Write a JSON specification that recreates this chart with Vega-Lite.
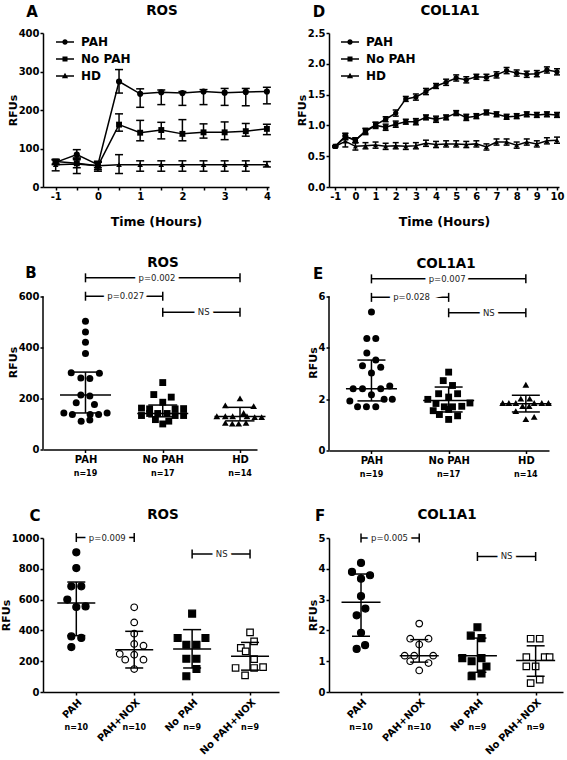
{
"$schema": "https://vega.github.io/schema/vega-lite/v6.json",
"background": "white",
"padding": {"left": 0, "top": 3, "right": 2, "bottom": 0},
"config": {
 "font": "DejaVu Sans",
 "view": {"stroke": null},
 "axis": {"grid": false, "domainColor": "black", "domainWidth": 1.5, "tickColor": "black", "tickWidth": 1.5, "tickSize": 3, "labelColor": "black", "labelFont": "DejaVu Sans", "labelFontSize": 10, "labelFontWeight": "bold", "labelPadding": 1, "titleColor": "black", "titleFont": "DejaVu Sans", "titleFontWeight": "bold", "titleFontSize": 11, "titlePadding": 0},
 "axisX": {"titleFontSize": 12.5, "titlePadding": 14},
 "title": {"font": "DejaVu Sans", "fontSize": 13.5, "fontWeight": "bold", "color": "black", "anchor": "middle", "frame": "group"},
 "text": {"font": "DejaVu Sans"}
},
"datasets": {
 "ser": [{"s": "PAH"}, {"s": "No PAH"}, {"s": "HD"}],
 "tsA": [
  {"t":-1,"s":"PAH","y":64,"lo":58,"hi":70},{"t":-0.5,"s":"PAH","y":84,"lo":71,"hi":97},{"t":0,"s":"PAH","y":58,"lo":50,"hi":64},{"t":0.5,"s":"PAH","y":274,"lo":244,"hi":305},{"t":1,"s":"PAH","y":242,"lo":207,"hi":255},{"t":1.5,"s":"PAH","y":246,"lo":214,"hi":252},{"t":2,"s":"PAH","y":244,"lo":212,"hi":248},{"t":2.5,"s":"PAH","y":248,"lo":214,"hi":253},{"t":3,"s":"PAH","y":245,"lo":212,"hi":256},{"t":3.5,"s":"PAH","y":247,"lo":211,"hi":256},{"t":4,"s":"PAH","y":248,"lo":216,"hi":259},
  {"t":-1,"s":"No PAH","y":66,"lo":60,"hi":72},{"t":-0.5,"s":"No PAH","y":62,"lo":50,"hi":75},{"t":0,"s":"No PAH","y":55,"lo":45,"hi":65},{"t":0.5,"s":"No PAH","y":162,"lo":145,"hi":190},{"t":1,"s":"No PAH","y":141,"lo":120,"hi":173},{"t":1.5,"s":"No PAH","y":148,"lo":125,"hi":168},{"t":2,"s":"No PAH","y":138,"lo":120,"hi":175},{"t":2.5,"s":"No PAH","y":142,"lo":127,"hi":164},{"t":3,"s":"No PAH","y":142,"lo":123,"hi":169},{"t":3.5,"s":"No PAH","y":145,"lo":132,"hi":165},{"t":4,"s":"No PAH","y":151,"lo":136,"hi":163},
  {"t":-1,"s":"HD","y":58,"lo":42,"hi":71},{"t":-0.5,"s":"HD","y":60,"lo":35,"hi":75},{"t":0,"s":"HD","y":55,"lo":41,"hi":67},{"t":0.5,"s":"HD","y":58,"lo":35,"hi":84},{"t":1,"s":"HD","y":58,"lo":41,"hi":68},{"t":1.5,"s":"HD","y":58,"lo":41,"hi":68},{"t":2,"s":"HD","y":58,"lo":41,"hi":68},{"t":2.5,"s":"HD","y":58,"lo":41,"hi":68},{"t":3,"s":"HD","y":58,"lo":41,"hi":68},{"t":3.5,"s":"HD","y":58,"lo":41,"hi":68},{"t":4,"s":"HD","y":58,"lo":52,"hi":66}
 ],
 "tsD": [
  {"t":-1,"s":"PAH","y":0.66,"lo":0.65,"hi":0.67},{"t":-0.5,"s":"PAH","y":0.82,"lo":0.77,"hi":0.87},{"t":0,"s":"PAH","y":0.76,"lo":0.72,"hi":0.80},{"t":0.5,"s":"PAH","y":0.91,"lo":0.87,"hi":0.95},{"t":1,"s":"PAH","y":1.01,"lo":0.97,"hi":1.05},{"t":1.5,"s":"PAH","y":1.10,"lo":1.06,"hi":1.14},{"t":2,"s":"PAH","y":1.20,"lo":1.15,"hi":1.25},{"t":2.5,"s":"PAH","y":1.43,"lo":1.39,"hi":1.47},{"t":3,"s":"PAH","y":1.46,"lo":1.41,"hi":1.51},{"t":3.5,"s":"PAH","y":1.55,"lo":1.50,"hi":1.60},{"t":4,"s":"PAH","y":1.64,"lo":1.60,"hi":1.68},{"t":4.5,"s":"PAH","y":1.70,"lo":1.65,"hi":1.75},{"t":5,"s":"PAH","y":1.77,"lo":1.72,"hi":1.82},{"t":5.5,"s":"PAH","y":1.74,"lo":1.69,"hi":1.79},{"t":6,"s":"PAH","y":1.79,"lo":1.75,"hi":1.83},{"t":6.5,"s":"PAH","y":1.78,"lo":1.73,"hi":1.83},{"t":7,"s":"PAH","y":1.82,"lo":1.77,"hi":1.87},{"t":7.5,"s":"PAH","y":1.89,"lo":1.84,"hi":1.94},{"t":8,"s":"PAH","y":1.85,"lo":1.80,"hi":1.90},{"t":8.5,"s":"PAH","y":1.83,"lo":1.78,"hi":1.88},{"t":9,"s":"PAH","y":1.84,"lo":1.79,"hi":1.89},{"t":9.5,"s":"PAH","y":1.90,"lo":1.85,"hi":1.95},{"t":10,"s":"PAH","y":1.87,"lo":1.82,"hi":1.92},
  {"t":-1,"s":"No PAH","y":0.66,"lo":0.65,"hi":0.67},{"t":-0.5,"s":"No PAH","y":0.82,"lo":0.77,"hi":0.87},{"t":0,"s":"No PAH","y":0.76,"lo":0.72,"hi":0.80},{"t":0.5,"s":"No PAH","y":0.90,"lo":0.85,"hi":0.95},{"t":1,"s":"No PAH","y":1.00,"lo":0.95,"hi":1.05},{"t":1.5,"s":"No PAH","y":0.97,"lo":0.92,"hi":1.02},{"t":2,"s":"No PAH","y":1.02,"lo":0.97,"hi":1.07},{"t":2.5,"s":"No PAH","y":1.06,"lo":1.02,"hi":1.10},{"t":3,"s":"No PAH","y":1.06,"lo":1.01,"hi":1.11},{"t":3.5,"s":"No PAH","y":1.13,"lo":1.09,"hi":1.17},{"t":4,"s":"No PAH","y":1.10,"lo":1.05,"hi":1.15},{"t":4.5,"s":"No PAH","y":1.13,"lo":1.09,"hi":1.17},{"t":5,"s":"No PAH","y":1.20,"lo":1.16,"hi":1.24},{"t":5.5,"s":"No PAH","y":1.13,"lo":1.08,"hi":1.18},{"t":6,"s":"No PAH","y":1.15,"lo":1.11,"hi":1.19},{"t":6.5,"s":"No PAH","y":1.21,"lo":1.17,"hi":1.25},{"t":7,"s":"No PAH","y":1.18,"lo":1.14,"hi":1.22},{"t":7.5,"s":"No PAH","y":1.14,"lo":1.10,"hi":1.18},{"t":8,"s":"No PAH","y":1.15,"lo":1.11,"hi":1.19},{"t":8.5,"s":"No PAH","y":1.18,"lo":1.14,"hi":1.22},{"t":9,"s":"No PAH","y":1.17,"lo":1.13,"hi":1.21},{"t":9.5,"s":"No PAH","y":1.18,"lo":1.14,"hi":1.22},{"t":10,"s":"No PAH","y":1.17,"lo":1.13,"hi":1.21},
  {"t":-1,"s":"HD","y":0.66,"lo":0.65,"hi":0.67},{"t":-0.5,"s":"HD","y":0.74,"lo":0.65,"hi":0.83},{"t":0,"s":"HD","y":0.66,"lo":0.60,"hi":0.72},{"t":0.5,"s":"HD","y":0.67,"lo":0.62,"hi":0.72},{"t":1,"s":"HD","y":0.68,"lo":0.63,"hi":0.73},{"t":1.5,"s":"HD","y":0.66,"lo":0.61,"hi":0.71},{"t":2,"s":"HD","y":0.67,"lo":0.62,"hi":0.72},{"t":2.5,"s":"HD","y":0.66,"lo":0.61,"hi":0.71},{"t":3,"s":"HD","y":0.67,"lo":0.62,"hi":0.72},{"t":3.5,"s":"HD","y":0.71,"lo":0.66,"hi":0.76},{"t":4,"s":"HD","y":0.69,"lo":0.64,"hi":0.74},{"t":4.5,"s":"HD","y":0.70,"lo":0.65,"hi":0.75},{"t":5,"s":"HD","y":0.70,"lo":0.65,"hi":0.75},{"t":5.5,"s":"HD","y":0.69,"lo":0.64,"hi":0.74},{"t":6,"s":"HD","y":0.70,"lo":0.65,"hi":0.75},{"t":6.5,"s":"HD","y":0.65,"lo":0.60,"hi":0.70},{"t":7,"s":"HD","y":0.73,"lo":0.68,"hi":0.78},{"t":7.5,"s":"HD","y":0.73,"lo":0.68,"hi":0.78},{"t":8,"s":"HD","y":0.68,"lo":0.63,"hi":0.73},{"t":8.5,"s":"HD","y":0.73,"lo":0.68,"hi":0.78},{"t":9,"s":"HD","y":0.70,"lo":0.65,"hi":0.75},{"t":9.5,"s":"HD","y":0.75,"lo":0.70,"hi":0.80},{"t":10,"s":"HD","y":0.76,"lo":0.71,"hi":0.81}
 ],
 "ptB": [
  {"g":"PAH","x":0,"v":502},{"g":"PAH","x":0,"v":460},{"g":"PAH","x":0,"v":420},{"g":"PAH","x":0,"v":376},{"g":"PAH","x":-0.185,"v":300},{"g":"PAH","x":0.18,"v":298},{"g":"PAH","x":-0.06,"v":280},{"g":"PAH","x":0.056,"v":278},{"g":"PAH","x":-0.06,"v":213},{"g":"PAH","x":0.056,"v":209},{"g":"PAH","x":-0.12,"v":183},{"g":"PAH","x":0.116,"v":176},{"g":"PAH","x":-0.28,"v":143},{"g":"PAH","x":-0.17,"v":137},{"g":"PAH","x":0.06,"v":137},{"g":"PAH","x":0.17,"v":137},{"g":"PAH","x":0.28,"v":143},{"g":"PAH","x":-0.056,"v":111},{"g":"PAH","x":0.056,"v":115},
  {"g":"No PAH","x":1,"v":262},{"g":"No PAH","x":0.884,"v":215},{"g":"No PAH","x":1.11,"v":205},{"g":"No PAH","x":1,"v":185},{"g":"No PAH","x":0.725,"v":162},{"g":"No PAH","x":0.83,"v":159},{"g":"No PAH","x":1.27,"v":160},{"g":"No PAH","x":1.16,"v":159},{"g":"No PAH","x":0.725,"v":133},{"g":"No PAH","x":0.83,"v":141},{"g":"No PAH","x":0.935,"v":141},{"g":"No PAH","x":1.056,"v":141},{"g":"No PAH","x":1.16,"v":133},{"g":"No PAH","x":1.27,"v":133},{"g":"No PAH","x":0.905,"v":117},{"g":"No PAH","x":1.078,"v":111},{"g":"No PAH","x":1,"v":100},
  {"g":"HD","x":2,"v":200},{"g":"HD","x":1.81,"v":173},{"g":"HD","x":2.177,"v":170},{"g":"HD","x":2.047,"v":143},{"g":"HD","x":1.7,"v":130},{"g":"HD","x":1.81,"v":130},{"g":"HD","x":1.905,"v":130},{"g":"HD","x":2.09,"v":130},{"g":"HD","x":2.19,"v":127},{"g":"HD","x":2.28,"v":127},{"g":"HD","x":1.81,"v":104},{"g":"HD","x":1.9,"v":101},{"g":"HD","x":1.983,"v":101},{"g":"HD","x":2.078,"v":104}
 ],
 "smB": [{"gi":0,"mean":213,"lo":143,"hi":303,"n":"n=19"},{"gi":1,"mean":141,"lo":128,"hi":174,"n":"n=17"},{"gi":2,"mean":129,"lo":112,"hi":165,"n":"n=14"}],
 "brB": [{"a":0,"b":2,"y":672,"tx":0.925,"label":"p=0.002"},{"a":0,"b":1,"y":600,"tx":0.52,"label":"p=0.027"},{"a":1,"b":2,"y":537,"tx":1.53,"label":"NS"}],
 "ptE": [
  {"g":"PAH","x":0,"v":5.39},{"g":"PAH","x":-0.06,"v":4.36},{"g":"PAH","x":0.056,"v":4.36},{"g":"PAH","x":-0.06,"v":3.79},{"g":"PAH","x":0.056,"v":3.52},{"g":"PAH","x":-0.116,"v":3.30},{"g":"PAH","x":0.12,"v":3.24},{"g":"PAH","x":0,"v":3.02},{"g":"PAH","x":-0.237,"v":2.40},{"g":"PAH","x":-0.116,"v":2.40},{"g":"PAH","x":0.12,"v":2.40},{"g":"PAH","x":0.237,"v":2.51},{"g":"PAH","x":0,"v":2.17},{"g":"PAH","x":-0.28,"v":1.93},{"g":"PAH","x":0.164,"v":1.99},{"g":"PAH","x":0.27,"v":1.99},{"g":"PAH","x":-0.18,"v":1.70},{"g":"PAH","x":-0.065,"v":1.70},{"g":"PAH","x":0.056,"v":1.70},
  {"g":"No PAH","x":1,"v":3.05},{"g":"No PAH","x":0.93,"v":2.72},{"g":"No PAH","x":1.05,"v":2.53},{"g":"No PAH","x":0.87,"v":2.21},{"g":"No PAH","x":1.116,"v":2.21},{"g":"No PAH","x":0.73,"v":1.99},{"g":"No PAH","x":1,"v":2.08},{"g":"No PAH","x":1.276,"v":1.85},{"g":"No PAH","x":0.836,"v":1.83},{"g":"No PAH","x":0.944,"v":1.70},{"g":"No PAH","x":1.05,"v":1.70},{"g":"No PAH","x":1.17,"v":1.72},{"g":"No PAH","x":0.88,"v":1.40},{"g":"No PAH","x":1.116,"v":1.35},{"g":"No PAH","x":1,"v":1.21},{"g":"No PAH","x":0.8,"v":1.55},{"g":"No PAH","x":1.0,"v":1.60},
  {"g":"HD","x":2,"v":2.56},{"g":"HD","x":1.935,"v":2.02},{"g":"HD","x":2.05,"v":2.02},{"g":"HD","x":1.7,"v":1.85},{"g":"HD","x":1.78,"v":1.85},{"g":"HD","x":1.87,"v":1.85},{"g":"HD","x":2.108,"v":1.85},{"g":"HD","x":2.207,"v":1.85},{"g":"HD","x":2.293,"v":1.85},{"g":"HD","x":1.957,"v":1.73},{"g":"HD","x":2.043,"v":1.73},{"g":"HD","x":1.87,"v":1.53},{"g":"HD","x":2.108,"v":1.31},{"g":"HD","x":2,"v":1.22}
 ],
 "smE": [{"gi":0,"mean":2.40,"lo":1.93,"hi":3.52,"n":"n=19"},{"gi":1,"mean":1.95,"lo":1.50,"hi":2.47,"n":"n=17"},{"gi":2,"mean":1.82,"lo":1.50,"hi":2.15,"n":"n=14"}],
 "brE": [{"a":0,"b":2,"y":6.68,"tx":0.98,"label":"p=0.007"},{"a":0,"b":1,"y":5.96,"tx":0.52,"label":"p=0.028"},{"a":1,"b":2,"y":5.36,"tx":1.52,"label":"NS"}],
 "ptC": [
  {"g":"PAH","x":0,"v":907},{"g":"PAH","x":0,"v":805},{"g":"PAH","x":-0.086,"v":686},{"g":"PAH","x":0.086,"v":686},{"g":"PAH","x":-0.155,"v":600},{"g":"PAH","x":0,"v":552},{"g":"PAH","x":0.16,"v":556},{"g":"PAH","x":-0.086,"v":361},{"g":"PAH","x":0.086,"v":351},{"g":"PAH","x":-0.086,"v":292},
  {"g":"PAH+NOX","x":1,"v":550},{"g":"PAH+NOX","x":1,"v":452},{"g":"PAH+NOX","x":1,"v":379},{"g":"PAH+NOX","x":1,"v":312},{"g":"PAH+NOX","x":1.16,"v":301},{"g":"PAH+NOX","x":0.75,"v":247},{"g":"PAH+NOX","x":1,"v":242},{"g":"PAH+NOX","x":0.845,"v":210},{"g":"PAH+NOX","x":1.16,"v":210},{"g":"PAH+NOX","x":1,"v":149},
  {"g":"No PAH","x":2,"v":509},{"g":"No PAH","x":1.75,"v":351},{"g":"No PAH","x":2.23,"v":351},{"g":"No PAH","x":1.9,"v":307},{"g":"No PAH","x":2.075,"v":307},{"g":"No PAH","x":1.9,"v":216},{"g":"No PAH","x":2.075,"v":216},{"g":"No PAH","x":2.075,"v":149},{"g":"No PAH","x":1.9,"v":102},
  {"g":"No PAH+NOX","x":3,"v":387},{"g":"No PAH+NOX","x":3.07,"v":329},{"g":"No PAH+NOX","x":2.84,"v":286},{"g":"No PAH+NOX","x":2.925,"v":264},{"g":"No PAH+NOX","x":3.07,"v":214},{"g":"No PAH+NOX","x":2.75,"v":156},{"g":"No PAH+NOX","x":3.07,"v":156},{"g":"No PAH+NOX","x":3.225,"v":162},{"g":"No PAH+NOX","x":2.914,"v":108}
 ],
 "smC": [{"gi":0,"mean":578,"lo":366,"hi":714,"n":"n=10"},{"gi":1,"mean":275,"lo":156,"hi":394,"n":"n=10"},{"gi":2,"mean":279,"lo":156,"hi":405,"n":"n=9"},{"gi":3,"mean":232,"lo":142,"hi":322,"n":"n=9"}],
 "brC": [{"a":0,"b":1,"y":1003,"tx":0.535,"label":"p=0.009"},{"a":2,"b":3,"y":896,"tx":2.51,"label":"NS"}],
 "ptF": [
  {"g":"PAH","x":0,"v":4.19},{"g":"PAH","x":-0.155,"v":3.90},{"g":"PAH","x":0.155,"v":3.79},{"g":"PAH","x":0,"v":3.68},{"g":"PAH","x":0,"v":3.11},{"g":"PAH","x":0.075,"v":2.71},{"g":"PAH","x":-0.075,"v":2.49},{"g":"PAH","x":0,"v":1.92},{"g":"PAH","x":0.07,"v":1.52},{"g":"PAH","x":-0.075,"v":1.40},
  {"g":"PAH+NOX","x":1,"v":2.22},{"g":"PAH+NOX","x":0.845,"v":1.73},{"g":"PAH+NOX","x":1.16,"v":1.73},{"g":"PAH+NOX","x":1,"v":1.54},{"g":"PAH+NOX","x":0.75,"v":1.18},{"g":"PAH+NOX","x":0.914,"v":1.18},{"g":"PAH+NOX","x":1.24,"v":1.18},{"g":"PAH+NOX","x":0.845,"v":1.00},{"g":"PAH+NOX","x":1.16,"v":0.94},{"g":"PAH+NOX","x":1,"v":0.70},
  {"g":"No PAH","x":2,"v":2.10},{"g":"No PAH","x":1.885,"v":1.83},{"g":"No PAH","x":2.07,"v":1.75},{"g":"No PAH","x":1.74,"v":1.10},{"g":"No PAH","x":1.9,"v":1.00},{"g":"No PAH","x":2.07,"v":1.10},{"g":"No PAH","x":2.155,"v":0.83},{"g":"No PAH","x":2.07,"v":0.60},{"g":"No PAH","x":1.9,"v":0.51},
  {"g":"No PAH+NOX","x":2.914,"v":1.73},{"g":"No PAH+NOX","x":3.07,"v":1.73},{"g":"No PAH+NOX","x":2.84,"v":1.13},{"g":"No PAH+NOX","x":3.155,"v":1.13},{"g":"No PAH+NOX","x":3.24,"v":1.13},{"g":"No PAH+NOX","x":2.84,"v":0.83},{"g":"No PAH+NOX","x":3,"v":0.83},{"g":"No PAH+NOX","x":3.07,"v":0.40},{"g":"No PAH+NOX","x":2.914,"v":0.29}
 ],
 "smF": [{"gi":0,"mean":2.91,"lo":1.81,"hi":3.83,"n":"n=10"},{"gi":1,"mean":1.18,"lo":0.97,"hi":1.70,"n":"n=10"},{"gi":2,"mean":1.18,"lo":0.64,"hi":1.75,"n":"n=9"},{"gi":3,"mean":1.02,"lo":0.51,"hi":1.50,"n":"n=9"}],
 "brF": [{"a":0,"b":1,"y":5.0,"tx":0.49,"label":"p=0.005"},{"a":2,"b":3,"y":4.40,"tx":2.50,"label":"NS"}]
},
"columns": 2,
"bounds": "flush",
"spacing": {"row": 87.5, "column": 50},
"concat": [
 {
  "width": 226, "height": 154,
  "title": {"text": "ROS", "offset": -12, "dx": 6},
  "resolve": {"scale": {"shape": "independent", "size": "independent"}},
  "layer": [
   {"data": {"name": "tsA"}, "mark": {"type": "line", "color": "black", "strokeWidth": 1.5},
    "encoding": {
     "x": {"field": "t", "type": "quantitative", "title": "Time (Hours)", "scale": {"domain": [-1.3, 4.05], "nice": false, "zero": false}, "axis": {"values": [-1,-0.5,0,0.5,1,1.5,2,2.5,3,3.5,4], "tickCount": 100, "labelExpr": "datum.value % 1 === 0 ? toString(datum.value) : ''", "labelFlush": false, "labelOverlap": false, "titleColor": "black"}},
     "y": {"field": "y", "type": "quantitative", "title": "RFUs", "scale": {"domain": [0, 400], "nice": false}, "axis": {"values": [0,100,200,300,400], "tickCount": 100, "format": "d", "labelOverlap": false, "titleColor": "black"}},
     "detail": {"field": "s"}}},
   {"data": {"name": "tsA"}, "mark": {"type": "rule", "color": "black", "strokeWidth": 1.5},
    "encoding": {"x": {"field": "t", "type": "quantitative", "title": "Time (Hours)"}, "y": {"field": "lo", "type": "quantitative", "title": "RFUs"}, "y2": {"field": "hi"}}},
   {"data": {"name": "tsA"}, "mark": {"type": "tick", "orient": "horizontal", "size": 8, "thickness": 1.5, "color": "black", "opacity": 1},
    "encoding": {"x": {"field": "t", "type": "quantitative", "title": "Time (Hours)"}, "y": {"field": "lo", "type": "quantitative", "title": "RFUs"}}},
   {"data": {"name": "tsA"}, "mark": {"type": "tick", "orient": "horizontal", "size": 8, "thickness": 1.5, "color": "black", "opacity": 1},
    "encoding": {"x": {"field": "t", "type": "quantitative", "title": "Time (Hours)"}, "y": {"field": "hi", "type": "quantitative", "title": "RFUs"}}},
   {"data": {"name": "tsA"}, "mark": {"type": "point", "filled": true, "color": "black", "opacity": 1},
    "encoding": {"x": {"field": "t", "type": "quantitative", "title": "Time (Hours)"}, "y": {"field": "y", "type": "quantitative", "title": "RFUs"},
     "shape": {"field": "s", "type": "nominal", "scale": {"domain": ["PAH","No PAH","HD"], "range": ["circle","square","triangle-up"]}, "legend": null},
     "size": {"field": "s", "type": "nominal", "scale": {"domain": ["PAH","No PAH","HD"], "range": [38,32,48]}, "legend": null}}},
   {"data": {"name": "ser"}, "transform": [{"filter": "false"}], "mark": {"type": "point", "filled": true, "color": "black", "opacity": 1, "size": 144},
    "encoding": {"shape": {"field": "s", "type": "nominal", "scale": {"domain": ["PAH","No PAH","HD"], "range": ["M-1.5,-0.13H1.5V0.13H-1.5ZM0.45,0A0.45,0.45,0,1,1,-0.45,0A0.45,0.45,0,1,1,0.45,0Z","M-1.5,-0.13H1.5V0.13H-1.5ZM-0.42,-0.42H0.42V0.42H-0.42Z","M-1.5,-0.13H1.5V0.13H-1.5ZM0,-0.55L0.52,0.38H-0.52Z"]},
     "legend": {"title": null, "orient": "none", "legendX": 16, "legendY": 3, "symbolSize": 144, "labelFont": "DejaVu Sans", "labelFontSize": 12, "labelFontWeight": "bold", "labelColor": "black", "labelOffset": 10, "rowPadding": 5, "padding": 0, "symbolFillColor": "black", "symbolStrokeWidth": 0, "symbolOpacity": 1,
      "encode": {"symbols": {"update": {"fill": {"value": "black"}, "opacity": {"value": 1}}}}}}}},
   {"data": {"values": [{"label": "A"}]}, "mark": {"type": "text", "fontSize": 15, "fontWeight": "bold", "color": "black", "baseline": "middle", "dx": -11, "dy": -21},
    "encoding": {"x": {"datum": -1.3, "type": "quantitative"}, "y": {"datum": 400, "type": "quantitative"}, "text": {"field": "label"}}}
  ]
 },
 {
  "width": 230, "height": 154,
  "title": {"text": "COL1A1", "offset": -12, "dx": 6},
  "resolve": {"scale": {"shape": "independent", "size": "independent"}},
  "layer": [
   {"data": {"name": "tsD"}, "mark": {"type": "line", "color": "black", "strokeWidth": 1.5},
    "encoding": {
     "x": {"field": "t", "type": "quantitative", "title": "Time (Hours)", "scale": {"domain": [-1.31, 10.1], "nice": false, "zero": false}, "axis": {"values": [-1,-0.5,0,0.5,1,1.5,2,2.5,3,3.5,4,4.5,5,5.5,6,6.5,7,7.5,8,8.5,9,9.5,10], "tickCount": 100, "labelExpr": "datum.value % 1 === 0 ? toString(datum.value) : ''", "labelFlush": false, "labelOverlap": false, "titleColor": "black"}},
     "y": {"field": "y", "type": "quantitative", "title": "RFUs", "scale": {"domain": [0, 2.5], "nice": false}, "axis": {"values": [0,0.5,1,1.5,2,2.5], "tickCount": 100, "labelOverlap": false, "format": ".1f", "titleColor": "black"}},
     "detail": {"field": "s"}}},
   {"data": {"name": "tsD"}, "mark": {"type": "rule", "color": "black", "strokeWidth": 1.5},
    "encoding": {"x": {"field": "t", "type": "quantitative", "title": "Time (Hours)"}, "y": {"field": "lo", "type": "quantitative", "title": "RFUs"}, "y2": {"field": "hi"}}},
   {"data": {"name": "tsD"}, "mark": {"type": "tick", "orient": "horizontal", "size": 6, "thickness": 1.5, "color": "black", "opacity": 1},
    "encoding": {"x": {"field": "t", "type": "quantitative", "title": "Time (Hours)"}, "y": {"field": "lo", "type": "quantitative", "title": "RFUs"}}},
   {"data": {"name": "tsD"}, "mark": {"type": "tick", "orient": "horizontal", "size": 6, "thickness": 1.5, "color": "black", "opacity": 1},
    "encoding": {"x": {"field": "t", "type": "quantitative", "title": "Time (Hours)"}, "y": {"field": "hi", "type": "quantitative", "title": "RFUs"}}},
   {"data": {"name": "tsD"}, "mark": {"type": "point", "filled": true, "color": "black", "opacity": 1},
    "encoding": {"x": {"field": "t", "type": "quantitative", "title": "Time (Hours)"}, "y": {"field": "y", "type": "quantitative", "title": "RFUs"},
     "shape": {"field": "s", "type": "nominal", "scale": {"domain": ["PAH","No PAH","HD"], "range": ["circle","square","triangle-up"]}, "legend": null},
     "size": {"field": "s", "type": "nominal", "scale": {"domain": ["PAH","No PAH","HD"], "range": [28,25,36]}, "legend": null}}},
   {"data": {"name": "ser"}, "transform": [{"filter": "false"}], "mark": {"type": "point", "filled": true, "color": "black", "opacity": 1, "size": 144},
    "encoding": {"shape": {"field": "s", "type": "nominal", "scale": {"domain": ["PAH","No PAH","HD"], "range": ["M-1.5,-0.13H1.5V0.13H-1.5ZM0.45,0A0.45,0.45,0,1,1,-0.45,0A0.45,0.45,0,1,1,0.45,0Z","M-1.5,-0.13H1.5V0.13H-1.5ZM-0.42,-0.42H0.42V0.42H-0.42Z","M-1.5,-0.13H1.5V0.13H-1.5ZM0,-0.55L0.52,0.38H-0.52Z"]},
     "legend": {"title": null, "orient": "none", "legendX": 15, "legendY": 3, "symbolSize": 144, "labelFont": "DejaVu Sans", "labelFontSize": 12, "labelFontWeight": "bold", "labelColor": "black", "labelOffset": 10, "rowPadding": 5, "padding": 0, "symbolFillColor": "black", "symbolStrokeWidth": 0, "symbolOpacity": 1,
      "encode": {"symbols": {"update": {"fill": {"value": "black"}, "opacity": {"value": 1}}}}}}}},
   {"data": {"values": [{"label": "D"}]}, "mark": {"type": "text", "fontSize": 15, "fontWeight": "bold", "color": "black", "baseline": "middle", "dx": -10, "dy": -21},
    "encoding": {"x": {"datum": -1.31, "type": "quantitative"}, "y": {"datum": 2.5, "type": "quantitative"}, "text": {"field": "label"}}}
  ]
 },
 {
  "width": 214, "height": 175,
  "title": {"text": "ROS", "offset": -4, "dx": 13},
  "layer": [
   {"data": {"name": "ptB"}, "mark": {"type": "point", "filled": true, "color": "black", "opacity": 1},
    "encoding": {
     "x": {"field": "x", "type": "quantitative", "title": null, "scale": {"domain": [-0.55, 2.22], "nice": false, "zero": false}, "axis": {"values": [0,1,2], "tickCount": 100, "labelExpr": "['PAH','No PAH','HD'][datum.value]", "labelFlush": false, "labelOverlap": false, "labelPadding": 2}},
     "y": {"field": "v", "type": "quantitative", "title": "RFUs", "scale": {"domain": [0, 685], "nice": false}, "axis": {"values": [0,200,400,600], "tickCount": 100, "format": "d", "labelOverlap": false, "domain": false, "titleColor": "black"}},
     "shape": {"field": "g", "type": "nominal", "scale": {"domain": ["PAH","No PAH","HD"], "range": ["circle","square","triangle-up"]}, "legend": null},
     "size": {"field": "g", "type": "nominal", "scale": {"domain": ["PAH","No PAH","HD"], "range": [49,42,60]}, "legend": null}}},
   {"data": {"values": [{"lo": 0, "hi": 600}]}, "mark": {"type": "rule", "color": "black", "strokeWidth": 1.5},
    "encoding": {"x": {"datum": -0.55, "type": "quantitative"}, "y": {"field": "lo", "type": "quantitative", "title": "RFUs"}, "y2": {"field": "hi"}}},
   {"data": {"name": "smB"}, "mark": {"type": "rule", "color": "black", "strokeWidth": 1.5},
    "encoding": {"x": {"field": "gi", "type": "quantitative", "title": null}, "y": {"field": "lo", "type": "quantitative", "title": "RFUs"}, "y2": {"field": "hi"}}},
   {"data": {"name": "smB"}, "mark": {"type": "tick", "orient": "horizontal", "size": 29, "thickness": 1.5, "color": "black", "opacity": 1},
    "encoding": {"x": {"field": "gi", "type": "quantitative", "title": null}, "y": {"field": "lo", "type": "quantitative", "title": "RFUs"}}},
   {"data": {"name": "smB"}, "mark": {"type": "tick", "orient": "horizontal", "size": 29, "thickness": 1.5, "color": "black", "opacity": 1},
    "encoding": {"x": {"field": "gi", "type": "quantitative", "title": null}, "y": {"field": "hi", "type": "quantitative", "title": "RFUs"}}},
   {"data": {"name": "smB"}, "mark": {"type": "tick", "orient": "horizontal", "size": 51, "thickness": 1.5, "color": "black", "opacity": 1},
    "encoding": {"x": {"field": "gi", "type": "quantitative", "title": null}, "y": {"field": "mean", "type": "quantitative", "title": "RFUs"}}},
   {"data": {"name": "smB"}, "mark": {"type": "text", "fontSize": 8, "fontWeight": "bold", "color": "black", "baseline": "middle", "dy": 24},
    "encoding": {"x": {"field": "gi", "type": "quantitative", "title": null}, "y": {"datum": 0, "type": "quantitative"}, "text": {"field": "n"}}},
   {"data": {"name": "brB"}, "mark": {"type": "rule", "color": "black", "strokeWidth": 1.5},
    "encoding": {"x": {"field": "a", "type": "quantitative", "title": null}, "x2": {"field": "b"}, "y": {"field": "y", "type": "quantitative", "title": "RFUs"}}},
   {"data": {"name": "brB"}, "mark": {"type": "tick", "orient": "vertical", "size": 9, "thickness": 1.5, "color": "black", "opacity": 1},
    "encoding": {"x": {"field": "a", "type": "quantitative", "title": null}, "y": {"field": "y", "type": "quantitative", "title": "RFUs"}}},
   {"data": {"name": "brB"}, "mark": {"type": "tick", "orient": "vertical", "size": 9, "thickness": 1.5, "color": "black", "opacity": 1},
    "encoding": {"x": {"field": "b", "type": "quantitative", "title": null}, "y": {"field": "y", "type": "quantitative", "title": "RFUs"}}},
   {"data": {"name": "brB"}, "mark": {"type": "text", "fontSize": 8.5, "color": "white", "stroke": "white", "strokeWidth": 8, "baseline": "middle"},
    "encoding": {"x": {"field": "tx", "type": "quantitative", "title": null}, "y": {"field": "y", "type": "quantitative", "title": "RFUs"}, "text": {"field": "label"}}},
   {"data": {"name": "brB"}, "mark": {"type": "text", "fontSize": 8.5, "color": "#222222", "baseline": "middle"},
    "encoding": {"x": {"field": "tx", "type": "quantitative", "title": null}, "y": {"field": "y", "type": "quantitative", "title": "RFUs"}, "text": {"field": "label"}}},
   {"data": {"values": [{"label": "B"}]}, "mark": {"type": "text", "fontSize": 15, "fontWeight": "bold", "color": "black", "baseline": "middle", "dx": -12, "dy": -2},
    "encoding": {"x": {"datum": -0.55, "type": "quantitative"}, "y": {"datum": 685, "type": "quantitative"}, "text": {"field": "label"}}}
  ]
 },
 {
  "width": 220, "height": 176,
  "title": {"text": "COL1A1", "offset": -4, "dx": 7},
  "layer": [
   {"data": {"name": "ptE"}, "mark": {"type": "point", "filled": true, "color": "black", "opacity": 1},
    "encoding": {
     "x": {"field": "x", "type": "quantitative", "title": null, "scale": {"domain": [-0.55, 2.3], "nice": false, "zero": false}, "axis": {"values": [0,1,2], "tickCount": 100, "labelExpr": "['PAH','No PAH','HD'][datum.value]", "labelFlush": false, "labelOverlap": false, "labelPadding": 2}},
     "y": {"field": "v", "type": "quantitative", "title": "RFUs", "scale": {"domain": [0, 6.85], "nice": false}, "axis": {"values": [0,2,4,6], "tickCount": 100, "format": "d", "labelOverlap": false, "domain": false, "titleColor": "black"}},
     "shape": {"field": "g", "type": "nominal", "scale": {"domain": ["PAH","No PAH","HD"], "range": ["circle","square","triangle-up"]}, "legend": null},
     "size": {"field": "g", "type": "nominal", "scale": {"domain": ["PAH","No PAH","HD"], "range": [49,45,55]}, "legend": null}}},
   {"data": {"values": [{"lo": 0, "hi": 6}]}, "mark": {"type": "rule", "color": "black", "strokeWidth": 1.5},
    "encoding": {"x": {"datum": -0.55, "type": "quantitative"}, "y": {"field": "lo", "type": "quantitative", "title": "RFUs"}, "y2": {"field": "hi"}}},
   {"data": {"name": "smE"}, "mark": {"type": "rule", "color": "black", "strokeWidth": 1.5},
    "encoding": {"x": {"field": "gi", "type": "quantitative", "title": null}, "y": {"field": "lo", "type": "quantitative", "title": "RFUs"}, "y2": {"field": "hi"}}},
   {"data": {"name": "smE"}, "mark": {"type": "tick", "orient": "horizontal", "size": 28, "thickness": 1.5, "color": "black", "opacity": 1},
    "encoding": {"x": {"field": "gi", "type": "quantitative", "title": null}, "y": {"field": "lo", "type": "quantitative", "title": "RFUs"}}},
   {"data": {"name": "smE"}, "mark": {"type": "tick", "orient": "horizontal", "size": 28, "thickness": 1.5, "color": "black", "opacity": 1},
    "encoding": {"x": {"field": "gi", "type": "quantitative", "title": null}, "y": {"field": "hi", "type": "quantitative", "title": "RFUs"}}},
   {"data": {"name": "smE"}, "mark": {"type": "tick", "orient": "horizontal", "size": 51, "thickness": 1.5, "color": "black", "opacity": 1},
    "encoding": {"x": {"field": "gi", "type": "quantitative", "title": null}, "y": {"field": "mean", "type": "quantitative", "title": "RFUs"}}},
   {"data": {"name": "smE"}, "mark": {"type": "text", "fontSize": 8, "fontWeight": "bold", "color": "black", "baseline": "middle", "dy": 24},
    "encoding": {"x": {"field": "gi", "type": "quantitative", "title": null}, "y": {"datum": 0, "type": "quantitative"}, "text": {"field": "n"}}},
   {"data": {"name": "brE"}, "mark": {"type": "rule", "color": "black", "strokeWidth": 1.5},
    "encoding": {"x": {"field": "a", "type": "quantitative", "title": null}, "x2": {"field": "b"}, "y": {"field": "y", "type": "quantitative", "title": "RFUs"}}},
   {"data": {"name": "brE"}, "mark": {"type": "tick", "orient": "vertical", "size": 9, "thickness": 1.5, "color": "black", "opacity": 1},
    "encoding": {"x": {"field": "a", "type": "quantitative", "title": null}, "y": {"field": "y", "type": "quantitative", "title": "RFUs"}}},
   {"data": {"name": "brE"}, "mark": {"type": "tick", "orient": "vertical", "size": 9, "thickness": 1.5, "color": "black", "opacity": 1},
    "encoding": {"x": {"field": "b", "type": "quantitative", "title": null}, "y": {"field": "y", "type": "quantitative", "title": "RFUs"}}},
   {"data": {"name": "brE"}, "mark": {"type": "text", "fontSize": 8.5, "color": "white", "stroke": "white", "strokeWidth": 8, "baseline": "middle"},
    "encoding": {"x": {"field": "tx", "type": "quantitative", "title": null}, "y": {"field": "y", "type": "quantitative", "title": "RFUs"}, "text": {"field": "label"}}},
   {"data": {"name": "brE"}, "mark": {"type": "text", "fontSize": 8.5, "color": "#222222", "baseline": "middle"},
    "encoding": {"x": {"field": "tx", "type": "quantitative", "title": null}, "y": {"field": "y", "type": "quantitative", "title": "RFUs"}, "text": {"field": "label"}}},
   {"data": {"values": [{"label": "E"}]}, "mark": {"type": "text", "fontSize": 15, "fontWeight": "bold", "color": "black", "baseline": "middle", "dx": -11, "dy": -1},
    "encoding": {"x": {"datum": -0.55, "type": "quantitative"}, "y": {"datum": 6.85, "type": "quantitative"}, "text": {"field": "label"}}}
  ]
 },
 {
  "width": 236, "height": 154,
  "title": {"text": "ROS", "offset": -12, "dx": 2},
  "layer": [
   {"data": {"name": "ptC"}, "mark": {"type": "point", "filled": true, "opacity": 1, "stroke": "black", "strokeWidth": 1.2},
    "encoding": {
     "x": {"field": "x", "type": "quantitative", "title": null, "scale": {"domain": [-0.575, 3.5], "nice": false, "zero": false}, "axis": {"values": [0,1,2,3], "tickCount": 100, "labelExpr": "['PAH','PAH+NOX','No PAH','No PAH+NOX'][datum.value]", "labelAngle": -45, "labelFlush": false, "labelOverlap": false, "labelPadding": 2}},
     "y": {"field": "v", "type": "quantitative", "title": "RFUs", "scale": {"domain": [0, 1000], "nice": false}, "axis": {"values": [0,200,400,600,800,1000], "tickCount": 100, "format": "d", "labelOverlap": false, "titleColor": "black"}},
     "shape": {"field": "g", "type": "nominal", "scale": {"domain": ["PAH","PAH+NOX","No PAH","No PAH+NOX"], "range": ["circle","circle","square","square"]}, "legend": null},
     "fill": {"field": "g", "type": "nominal", "scale": {"domain": ["PAH","PAH+NOX","No PAH","No PAH+NOX"], "range": ["black","white","black","white"]}, "legend": null},
     "size": {"field": "g", "type": "nominal", "scale": {"domain": ["PAH","PAH+NOX","No PAH","No PAH+NOX"], "range": [26,24,20,24]}, "legend": null}}},
   {"data": {"name": "smC"}, "mark": {"type": "rule", "color": "black", "strokeWidth": 1.5},
    "encoding": {"x": {"field": "gi", "type": "quantitative", "title": null}, "y": {"field": "lo", "type": "quantitative", "title": "RFUs"}, "y2": {"field": "hi"}}},
   {"data": {"name": "smC"}, "mark": {"type": "tick", "orient": "horizontal", "size": 18, "thickness": 1.5, "color": "black", "opacity": 1},
    "encoding": {"x": {"field": "gi", "type": "quantitative", "title": null}, "y": {"field": "lo", "type": "quantitative", "title": "RFUs"}}},
   {"data": {"name": "smC"}, "mark": {"type": "tick", "orient": "horizontal", "size": 18, "thickness": 1.5, "color": "black", "opacity": 1},
    "encoding": {"x": {"field": "gi", "type": "quantitative", "title": null}, "y": {"field": "hi", "type": "quantitative", "title": "RFUs"}}},
   {"data": {"name": "smC"}, "mark": {"type": "tick", "orient": "horizontal", "size": 38, "thickness": 1.5, "color": "black", "opacity": 1},
    "encoding": {"x": {"field": "gi", "type": "quantitative", "title": null}, "y": {"field": "mean", "type": "quantitative", "title": "RFUs"}}},
   {"data": {"name": "smC"}, "mark": {"type": "text", "fontSize": 8, "fontWeight": "bold", "color": "black", "baseline": "middle", "dy": 36},
    "encoding": {"x": {"field": "gi", "type": "quantitative", "title": null}, "y": {"datum": 0, "type": "quantitative"}, "text": {"field": "n"}}},
   {"data": {"name": "brC"}, "mark": {"type": "rule", "color": "black", "strokeWidth": 1.5},
    "encoding": {"x": {"field": "a", "type": "quantitative", "title": null}, "x2": {"field": "b"}, "y": {"field": "y", "type": "quantitative", "title": "RFUs"}}},
   {"data": {"name": "brC"}, "mark": {"type": "tick", "orient": "vertical", "size": 9, "thickness": 1.5, "color": "black", "opacity": 1},
    "encoding": {"x": {"field": "a", "type": "quantitative", "title": null}, "y": {"field": "y", "type": "quantitative", "title": "RFUs"}}},
   {"data": {"name": "brC"}, "mark": {"type": "tick", "orient": "vertical", "size": 9, "thickness": 1.5, "color": "black", "opacity": 1},
    "encoding": {"x": {"field": "b", "type": "quantitative", "title": null}, "y": {"field": "y", "type": "quantitative", "title": "RFUs"}}},
   {"data": {"name": "brC"}, "mark": {"type": "text", "fontSize": 8.5, "color": "white", "stroke": "white", "strokeWidth": 8, "baseline": "middle"},
    "encoding": {"x": {"field": "tx", "type": "quantitative", "title": null}, "y": {"field": "y", "type": "quantitative", "title": "RFUs"}, "text": {"field": "label"}}},
   {"data": {"name": "brC"}, "mark": {"type": "text", "fontSize": 8.5, "color": "#222222", "baseline": "middle"},
    "encoding": {"x": {"field": "tx", "type": "quantitative", "title": null}, "y": {"field": "y", "type": "quantitative", "title": "RFUs"}, "text": {"field": "label"}}},
   {"data": {"values": [{"label": "C"}]}, "mark": {"type": "text", "fontSize": 15, "fontWeight": "bold", "color": "black", "baseline": "middle", "dx": -8, "dy": -22},
    "encoding": {"x": {"datum": -0.575, "type": "quantitative"}, "y": {"datum": 1000, "type": "quantitative"}, "text": {"field": "label"}}}
  ]
 },
 {
  "width": 234, "height": 154,
  "title": {"text": "COL1A1", "offset": -12, "dx": 1},
  "layer": [
   {"data": {"name": "ptF"}, "mark": {"type": "point", "filled": true, "opacity": 1, "stroke": "black", "strokeWidth": 1.2},
    "encoding": {
     "x": {"field": "x", "type": "quantitative", "title": null, "scale": {"domain": [-0.55, 3.47], "nice": false, "zero": false}, "axis": {"values": [0,1,2,3], "tickCount": 100, "labelExpr": "['PAH','PAH+NOX','No PAH','No PAH+NOX'][datum.value]", "labelAngle": -45, "labelFlush": false, "labelOverlap": false, "labelPadding": 2}},
     "y": {"field": "v", "type": "quantitative", "title": "RFUs", "scale": {"domain": [0, 5], "nice": false}, "axis": {"values": [0,1,2,3,4,5], "tickCount": 100, "format": "d", "labelOverlap": false, "titleColor": "black"}},
     "shape": {"field": "g", "type": "nominal", "scale": {"domain": ["PAH","PAH+NOX","No PAH","No PAH+NOX"], "range": ["circle","circle","square","square"]}, "legend": null},
     "fill": {"field": "g", "type": "nominal", "scale": {"domain": ["PAH","PAH+NOX","No PAH","No PAH+NOX"], "range": ["black","white","black","white"]}, "legend": null},
     "size": {"field": "g", "type": "nominal", "scale": {"domain": ["PAH","PAH+NOX","No PAH","No PAH+NOX"], "range": [26,24,20,28]}, "legend": null}}},
   {"data": {"name": "smF"}, "mark": {"type": "rule", "color": "black", "strokeWidth": 1.5},
    "encoding": {"x": {"field": "gi", "type": "quantitative", "title": null}, "y": {"field": "lo", "type": "quantitative", "title": "RFUs"}, "y2": {"field": "hi"}}},
   {"data": {"name": "smF"}, "mark": {"type": "tick", "orient": "horizontal", "size": 18, "thickness": 1.5, "color": "black", "opacity": 1},
    "encoding": {"x": {"field": "gi", "type": "quantitative", "title": null}, "y": {"field": "lo", "type": "quantitative", "title": "RFUs"}}},
   {"data": {"name": "smF"}, "mark": {"type": "tick", "orient": "horizontal", "size": 18, "thickness": 1.5, "color": "black", "opacity": 1},
    "encoding": {"x": {"field": "gi", "type": "quantitative", "title": null}, "y": {"field": "hi", "type": "quantitative", "title": "RFUs"}}},
   {"data": {"name": "smF"}, "mark": {"type": "tick", "orient": "horizontal", "size": 39, "thickness": 1.5, "color": "black", "opacity": 1},
    "encoding": {"x": {"field": "gi", "type": "quantitative", "title": null}, "y": {"field": "mean", "type": "quantitative", "title": "RFUs"}}},
   {"data": {"name": "smF"}, "mark": {"type": "text", "fontSize": 8, "fontWeight": "bold", "color": "black", "baseline": "middle", "dy": 36},
    "encoding": {"x": {"field": "gi", "type": "quantitative", "title": null}, "y": {"datum": 0, "type": "quantitative"}, "text": {"field": "n"}}},
   {"data": {"name": "brF"}, "mark": {"type": "rule", "color": "black", "strokeWidth": 1.5},
    "encoding": {"x": {"field": "a", "type": "quantitative", "title": null}, "x2": {"field": "b"}, "y": {"field": "y", "type": "quantitative", "title": "RFUs"}}},
   {"data": {"name": "brF"}, "mark": {"type": "tick", "orient": "vertical", "size": 9, "thickness": 1.5, "color": "black", "opacity": 1},
    "encoding": {"x": {"field": "a", "type": "quantitative", "title": null}, "y": {"field": "y", "type": "quantitative", "title": "RFUs"}}},
   {"data": {"name": "brF"}, "mark": {"type": "tick", "orient": "vertical", "size": 9, "thickness": 1.5, "color": "black", "opacity": 1},
    "encoding": {"x": {"field": "b", "type": "quantitative", "title": null}, "y": {"field": "y", "type": "quantitative", "title": "RFUs"}}},
   {"data": {"name": "brF"}, "mark": {"type": "text", "fontSize": 8.5, "color": "white", "stroke": "white", "strokeWidth": 8, "baseline": "middle"},
    "encoding": {"x": {"field": "tx", "type": "quantitative", "title": null}, "y": {"field": "y", "type": "quantitative", "title": "RFUs"}, "text": {"field": "label"}}},
   {"data": {"name": "brF"}, "mark": {"type": "text", "fontSize": 8.5, "color": "#222222", "baseline": "middle"},
    "encoding": {"x": {"field": "tx", "type": "quantitative", "title": null}, "y": {"field": "y", "type": "quantitative", "title": "RFUs"}, "text": {"field": "label"}}},
   {"data": {"values": [{"label": "F"}]}, "mark": {"type": "text", "fontSize": 15, "fontWeight": "bold", "color": "black", "baseline": "middle", "dx": -9, "dy": -22},
    "encoding": {"x": {"datum": -0.55, "type": "quantitative"}, "y": {"datum": 5, "type": "quantitative"}, "text": {"field": "label"}}}
  ]
 }
]
}
